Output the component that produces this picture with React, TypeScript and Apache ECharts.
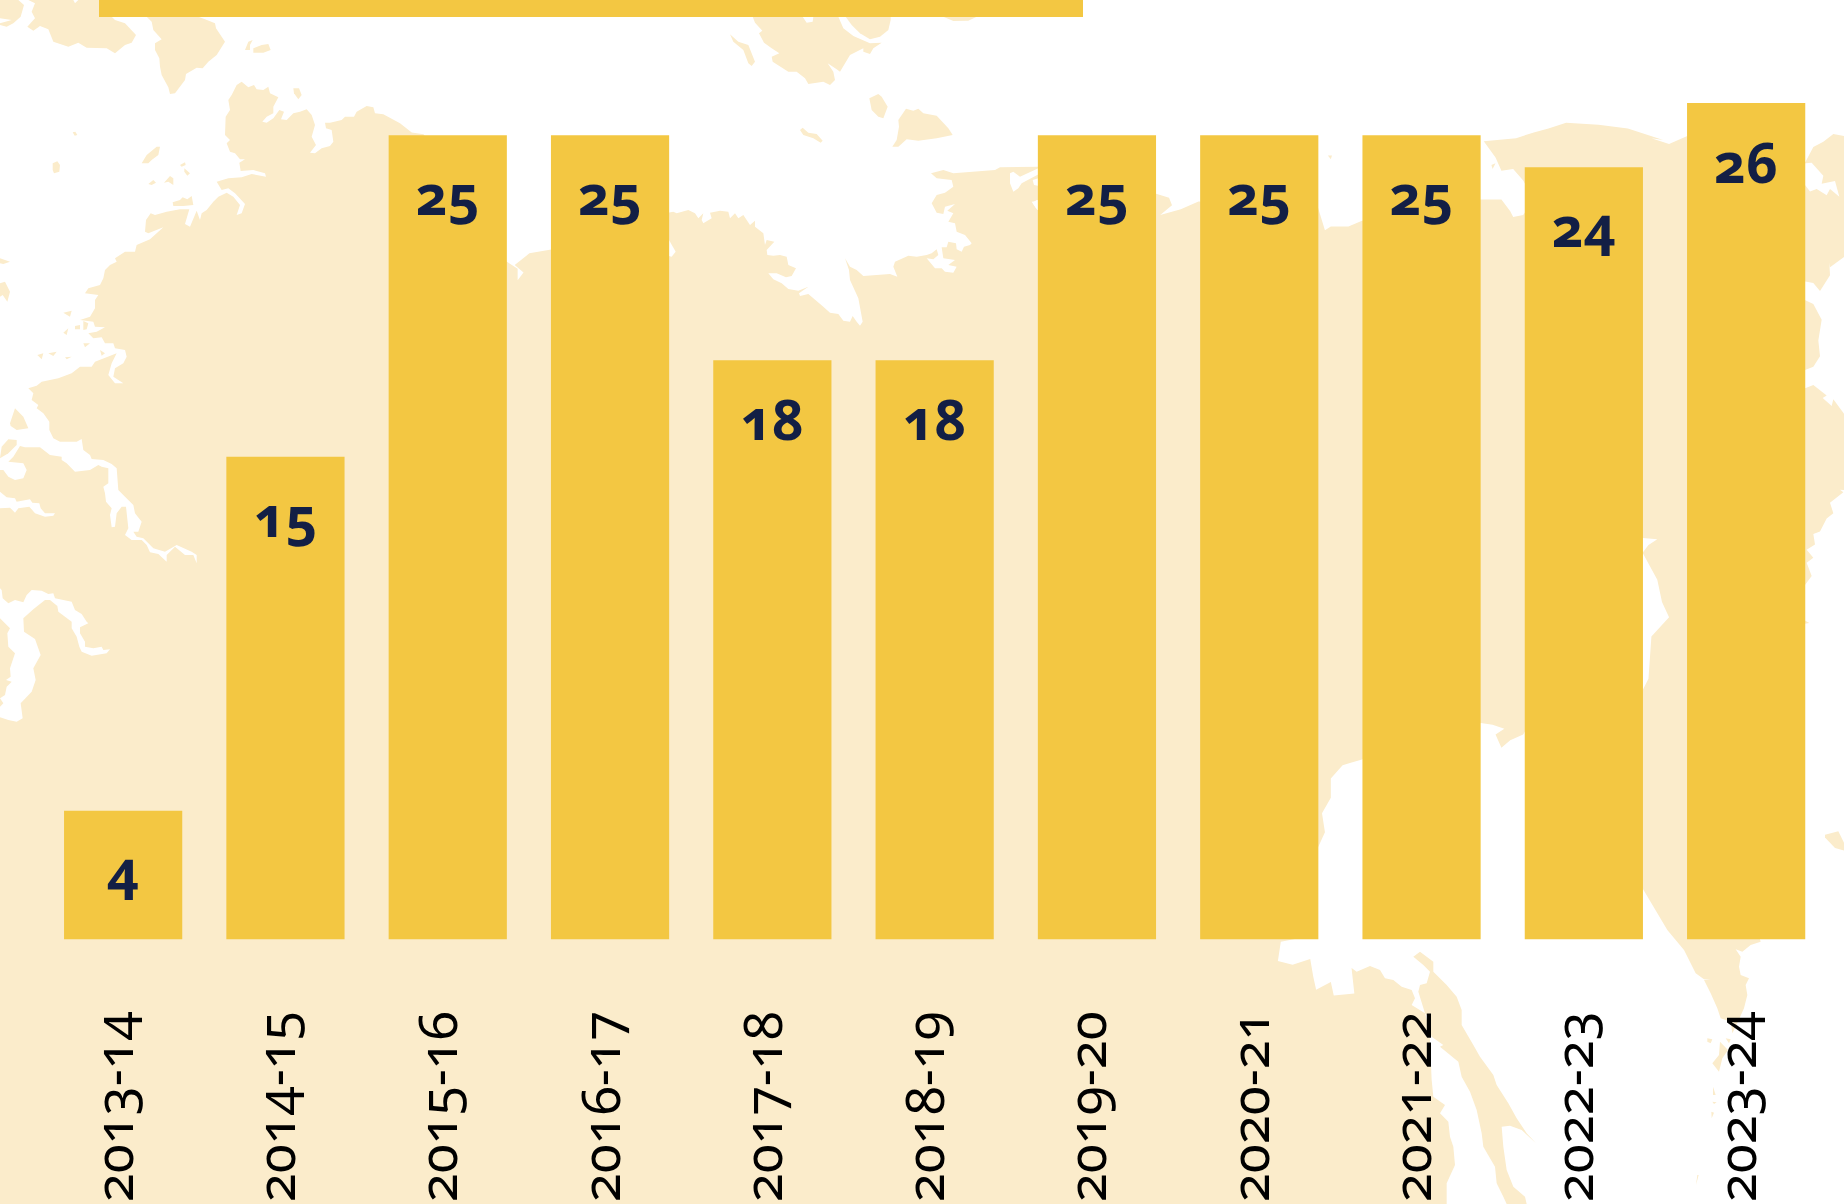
import React, { useEffect, useRef } from "react";
import * as echarts from "echarts";

const categories = ["2013-14", "2014-15", "2015-16", "2016-17", "2017-18", "2018-19", "2019-20", "2020-21", "2021-22", "2022-23", "2023-24"];
const values = [4, 15, 25, 25, 18, 18, 25, 25, 25, 24, 26];

const CREAM = "#FBECCB";
const GOLD = "#F3C742";
const INK = "#131F45";
const FONT = "Noto Sans";

type P = number[];
const m = (ox: number, oy: number, sx: number, sy: number, l: P[]) => l.map(([x, y]) => [ox + x / sx, oy + y / sy]);
const z1 = (l: P[]) => m(0, 0, 1.7, 2.605, l);
const z2 = (l: P[]) => m(922, 0, 1.7, 2.605, l);
const z4 = (l: P[]) => m(922, 602, 1.7, 2.605, l);
const z5 = (l: P[]) => m(1330, 930, 3, 3, l);
const z6 = (l: P[]) => m(1604, 930, 3, 3, l);
const z7 = (l: P[]) => m(1780, 100, 3, 1.912, l);
const z8 = (l: P[]) => m(0, 240, 3, 3, l);
const zA = (l: P[]) => m(0, 0, 3, 3, l);
const zB = (l: P[]) => m(680, 0, 3, 3, l);
const zC = (l: P[]) => m(660, 190, 3, 3, l);

const northOcean: P[] = [
  [0, 0], [1844, 0], [1844, 136],
  ...z7([[160, 65], [130, 80], [100, 90], [75, 120]]),
  ...z2([[1300, 355], [1270, 375], [1240, 360], [1260, 365], [1200, 335], [1150, 325], [1095, 320], [1065, 335], [1040, 345], [1010, 360], [955, 368], [975, 410], [985, 445], [1005, 440], [1022, 470], [1040, 520], [1022, 560], [1005, 565], [1000, 550], [985, 520], [949, 520], [900, 560], [748, 575], [725, 590], [695, 590], [685, 600], [673, 540], [600, 530], [470, 525], [440, 545], [405, 560], [425, 535], [420, 515], [398, 505], [300, 440], [197, 435]]),
  ...zB([[1075, 500], [960, 502], [945, 510], [820, 520], [790, 510], [753, 520], [770, 535], [815, 540], [820, 560], [795, 578], [770, 585]]),
  ...zC([[815, 40], [830, 68], [850, 72], [855, 50], [885, 42], [862, 62], [880, 70], [865, 95], [885, 100], [890, 125], [915, 135], [935, 160], [930, 165], [912, 170], [905, 185], [890, 178], [888, 160], [865, 155], [860, 172], [845, 172], [850, 205], [885, 210], [865, 225], [890, 230], [880, 248], [855, 245], [845, 235], [825, 235], [800, 205], [820, 208], [835, 195], [830, 178], [815, 190], [800, 195], [770, 200], [745, 197], [705, 215], [700, 230], [712, 260], [690, 252], [610, 258], [590, 240], [570, 230], [555, 205], [567, 240], [570, 270], [595, 325], [608, 395], [600, 407], [590, 395], [578, 378], [570, 395], [550, 392], [535, 372], [510, 368], [490, 350], [445, 312], [420, 318], [417, 310], [445, 290], [415, 302], [385, 297], [365, 280], [340, 268], [325, 250], [350, 250], [378, 262], [395, 258], [408, 235], [385, 225], [380, 200], [360, 195], [340, 197], [322, 195], [320, 180], [343, 155], [320, 150], [315, 165], [310, 130], [285, 110], [285, 92], [270, 105], [250, 75], [235, 85], [225, 70], [210, 85], [205, 65], [180, 62], [150, 68], [155, 85], [130, 100], [125, 90], [130, 70], [115, 85], [105, 70], [85, 60], [50, 70], [40, 65], [15, 70]]),
  ...z1([[1000, 600], [937, 650], [900, 660], [875, 690], [890, 710], [880, 730], [880, 700], [860, 680], [800, 500], [720, 350], [700, 345]]),
  ...zA([[1200, 370], [1150, 343], [1125, 340], [1120, 322], [1100, 318], [1070, 335], [1062, 350], [1035, 350], [1025, 360], [990, 368], [975, 368], [978, 385], [995, 390], [1000, 425], [990, 438], [965, 445], [945, 460], [930, 458], [948, 435], [935, 410], [945, 375], [935, 345], [920, 328], [900, 335], [880, 340], [860, 360], [843, 358], [852, 335], [838, 330], [820, 355], [800, 368], [787, 365], [800, 350], [820, 340], [820, 320], [835, 292], [810, 280], [805, 260], [790, 270], [770, 268], [762, 255], [745, 262], [725, 245], [710, 255], [695, 285], [685, 300], [690, 330], [677, 350], [675, 405], [690, 420], [680, 430], [690, 455], [705, 460], [720, 478], [735, 478], [718, 488], [722, 513], [760, 510], [795, 520], [798, 530], [755, 522], [725, 532], [685, 535], [650, 545], [665, 570], [685, 565], [705, 580], [735, 612], [725, 640], [710, 645], [720, 615], [700, 590], [680, 578], [655, 590], [640, 605], [620, 630], [605, 640], [600, 660], [590, 632], [570, 680], [555, 672], [568, 628], [540, 628], [500, 635], [465, 645], [452, 640], [438, 660], [435, 695], [445, 700], [490, 682], [470, 700], [450, 718]]),
  ...z8([[410, 15], [405, 35], [375, 35], [345, 55], [350, 65], [330, 75], [315, 90], [310, 115], [300, 135], [265, 145], [255, 160], [295, 165], [285, 180], [285, 205], [270, 230], [240, 240], [280, 245], [285, 260], [315, 262], [290, 275], [265, 280], [280, 295], [305, 292], [315, 310], [340, 310], [345, 325], [375, 330], [380, 350], [370, 370], [345, 385], [340, 410], [370, 430], [345, 430], [325, 405], [335, 370], [350, 340], [285, 365], [275, 380], [240, 380], [215, 400], [175, 415], [125, 425], [110, 437], [85, 445], [100, 460], [95, 480], [115, 495], [110, 505], [130, 520], [148, 545], [148, 570], [160, 595], [180, 605], [230, 605], [245, 597], [250, 630], [270, 645], [275, 657], [310, 660], [335, 672], [350, 685], [355, 750], [375, 770], [400, 795], [405, 820], [425, 845], [415, 875], [400, 875], [410, 890], [430, 895], [460, 925], [495, 935], [530, 915], [575, 935], [590, 945], [590, 970], [580, 945], [555, 945], [525, 920], [500, 945], [500, 965], [475, 942], [450, 937], [440, 915], [425, 900], [395, 900], [375, 885], [385, 865], [378, 800], [365, 800], [350, 820], [345, 860], [335, 862], [330, 825], [335, 805], [318, 785], [315, 760], [310, 740], [325, 730], [325, 685], [305, 680], [295, 675], [270, 690], [225, 695], [200, 670], [185, 660], [185, 650], [150, 645], [120, 622], [75, 622], [60, 618], [40, 650], [25, 665], [70, 670], [80, 690], [70, 715], [45, 720], [25, 710], [10, 690], [0, 690]]),
];

const channel: P[] = z8([[0, 755], [20, 772], [45, 775], [50, 785], [90, 778], [97, 788], [118, 790], [122, 805], [135, 820], [165, 820], [160, 827], [135, 830], [105, 820], [88, 800], [55, 805], [45, 818], [30, 803], [0, 805]]);
const westSea: P[] = z8([[0, 1045], [5, 1050], [8, 1075], [25, 1090], [45, 1080], [70, 1087], [80, 1065], [95, 1050], [125, 1052], [145, 1062], [160, 1060], [165, 1075], [215, 1085], [225, 1110], [245, 1122], [260, 1145], [265, 1150], [240, 1162], [240, 1180], [255, 1205], [255, 1220], [280, 1225], [305, 1220], [310, 1230], [330, 1228], [320, 1240], [275, 1247], [245, 1235], [238, 1220], [230, 1190], [215, 1165], [215, 1145], [175, 1115], [172, 1098], [150, 1080], [135, 1080], [100, 1108], [70, 1135], [72, 1175], [105, 1197], [122, 1245], [100, 1285], [107, 1320], [95, 1355], [62, 1390], [68, 1435], [50, 1445], [25, 1440], [0, 1432], [0, 1400], [10, 1390], [0, 1375], [15, 1365], [20, 1340], [35, 1325], [18, 1320], [32, 1310], [30, 1285], [45, 1240], [25, 1220], [22, 1180], [30, 1165], [0, 1135]]);

const eastBay: P[] = z7([[192, 300], [150, 320], [148, 310], [150, 335], [120, 365], [100, 350], [60, 345], [60, 378], [100, 390], [125, 420], [115, 460], [120, 490], [100, 510], [60, 520], [60, 555], [100, 545], [140, 565], [128, 570], [155, 585], [160, 572], [192, 600]]);
const eastInlet: P[] = z7([[60, 122], [95, 120], [130, 145], [125, 160], [165, 155], [178, 185], [150, 170], [140, 182], [110, 170], [90, 175], [60, 150]]);

const southOcean: P[] = [
  [1844, 1204], [1844, 490],
  ...z7([[180, 745], [190, 750], [150, 770], [160, 790], [140, 800], [120, 825], [100, 830], [105, 850], [80, 860], [100, 875], [80, 885], [95, 910], [60, 940]]),
  [1750, 900],
  ...z6([[470, 35], [440, 45], [415, 65], [395, 58], [410, 80], [405, 110], [410, 135], [435, 145], [425, 165], [430, 195], [420, 235], [395, 290], [385, 310], [380, 275], [350, 265], [340, 235], [320, 190], [300, 150], [320, 150], [300, 148], [275, 130], [240, 60], [190, 0]]),
  ...z4([[1215, 720], [1215, 260], [1235, 200], [1240, 90], [1270, 40], [1258, 0]]),
  ...z2([[1250, 1510], [1225, 1440], [1235, 1420], [1250, 1405], [1215, 1400]]),
  ...z4([[1022, 345], [1000, 360], [985, 380], [975, 345], [990, 330], [970, 320], [950, 315], [850, 360], [748, 410], [715, 425], [695, 460], [695, 510], [680, 550], [685, 600], [673, 640], [660, 870], [610, 885], [605, 935], [630, 945], [660, 930], [665, 975], [670, 1010], [695, 990], [700, 1025], [735, 1020], [730, 950]]),
  ...z5([[60, 110], [80, 125], [120, 108], [150, 120], [165, 145], [190, 150], [215, 170], [245, 180], [255, 205], [245, 225], [285, 250], [265, 185], [270, 165], [290, 160], [300, 125], [280, 105], [250, 80], [270, 65], [310, 95], [310, 125], [350, 165], [380, 200], [395, 240], [395, 285], [430, 345], [450, 380], [490, 435], [500, 465], [535, 520], [560, 565], [590, 610], [618, 640], [575, 600], [540, 587], [515, 590], [520, 650], [530, 720], [550, 770], [585, 800], [590, 822]]),
  [1540, 1204],
];
const gulf: P[] = [
  ...z5([[285, 250], [300, 265], [300, 340], [305, 450], [310, 500], [345, 525], [330, 550], [355, 575], [360, 620], [370, 650], [375, 705], [350, 760], [350, 822]]),
  [1446, 1204], [1520, 1204],
  ...z5([[530, 822], [520, 800], [500, 760], [495, 710], [460, 650], [455, 610], [440, 540], [420, 485], [395, 440], [385, 395], [330, 350], [340, 345], [305, 320]]),
];

const whiteBits: P[][] = [
  zB([[990, 520], [1000, 515], [1020, 530], [1075, 505], [1090, 515], [1025, 550], [1015, 565], [1000, 575], [990, 550]]),
  zB([[1058, 540], [1090, 530], [1090, 560], [1062, 555]]),
  zB([[1055, 605], [1090, 600], [1090, 630], [1068, 625]]),
  zC([[15, 150], [27, 150], [47, 185], [35, 200], [15, 195]]),
  zC([[1118, 38], [1130, 30], [1150, 30], [1150, 60], [1132, 60]]),
];

const isles: P[][] = [
  zA([[0, 0], [55, 0], [72, 15], [62, 50], [40, 70], [20, 80], [0, 75], [0, 70], [35, 60], [0, 55]]),
  zA([[85, 0], [105, 10], [95, 35], [105, 55], [82, 80], [100, 92], [120, 78], [145, 88], [160, 125], [205, 140], [235, 128], [260, 143], [320, 145], [345, 160], [375, 135], [395, 128], [408, 105], [375, 70], [345, 60], [335, 50], [297, 50], [297, 0], [235, 0], [225, 10], [220, 0]]),
  zA([[440, 50], [455, 65], [460, 90], [485, 118], [465, 130], [465, 150], [478, 175], [480, 200], [485, 225], [505, 262], [510, 282], [525, 280], [555, 240], [558, 222], [590, 203], [608, 205], [625, 185], [650, 165], [675, 125], [648, 85], [645, 70], [615, 58], [595, 50]]),
  zA([[735, 150], [745, 125], [758, 120], [750, 135], [750, 150]]),
  zA([[760, 145], [785, 135], [805, 132], [812, 150], [790, 158], [760, 158]]),
  zA([[880, 265], [897, 265], [905, 285], [895, 298], [882, 280]]),
  zA([[218, 397], [226, 395], [232, 405], [224, 407]]),
  zA([[158, 490], [172, 484], [180, 495], [178, 515], [162, 520], [158, 510]]),
  zA([[425, 490], [440, 465], [470, 440], [480, 440], [475, 465], [455, 480], [445, 490]]),
  zA([[540, 495], [555, 487], [557, 495], [545, 500]]),
  zA([[553, 505], [570, 520], [562, 527], [553, 515]]),
  zA([[445, 552], [460, 540], [468, 548], [455, 555]]),
  zA([[492, 548], [510, 528], [520, 535], [520, 555], [505, 545]]),
  zA([[518, 607], [540, 600], [548, 592], [562, 598], [575, 588], [580, 615], [550, 618], [520, 618]]),
  zB([[218, 50], [225, 68], [247, 92], [237, 100], [252, 128], [275, 145], [298, 160], [275, 170], [278, 185], [325, 215], [350, 215], [375, 235], [385, 252], [430, 245], [450, 255], [465, 240], [460, 215], [443, 190], [470, 208], [480, 215], [510, 165], [550, 145], [550, 155], [570, 162], [580, 145], [605, 128], [570, 130], [520, 108], [490, 85], [475, 50], [400, 50], [398, 65], [380, 68], [368, 50]]),
  zB([[497, 50], [515, 75], [540, 100], [570, 118], [600, 110], [625, 90], [632, 60], [632, 50]]),
  zB([[790, 50], [820, 63], [865, 62], [890, 50]]),
  zB([[150, 103], [175, 125], [205, 135], [225, 185], [215, 198], [205, 190], [190, 150], [160, 125]]),
  zB([[568, 295], [595, 282], [605, 290], [623, 320], [610, 355], [595, 350], [575, 330]]),
  zB([[655, 360], [678, 326], [700, 332], [715, 326], [730, 340], [770, 347], [805, 385], [818, 405], [770, 415], [715, 422], [680, 418], [655, 440], [637, 440], [650, 420], [657, 380]]),
  zB([[360, 390], [368, 383], [385, 398], [410, 402], [428, 422], [422, 428], [400, 415], [370, 405]]),
  z2([[690, 405], [697, 405], [695, 415]]),
  z2([[968, 430], [975, 425], [970, 440]]),
  z8([[190, 218], [215, 212], [210, 230]]),
  z8([[190, 278], [205, 265], [200, 285]]),
  z8([[225, 258], [240, 255], [240, 268], [225, 268]]),
  z8([[250, 243], [265, 250], [260, 268], [250, 270]]),
  z8([[250, 310], [270, 310], [255, 322]]),
  z8([[300, 330], [315, 340], [305, 347]]),
  z8([[112, 345], [130, 340], [125, 358]]),
  z8([[145, 340], [170, 335], [160, 348]]),
  z8([[195, 352], [215, 350], [200, 358]]),
  z8([[0, 55], [30, 65], [10, 72], [0, 70]]),
  z8([[0, 130], [15, 125], [30, 155], [22, 185], [8, 165], [0, 170]]),
  z8([[30, 550], [45, 505], [70, 530], [85, 565], [50, 570], [32, 558]]),
  z8([[5, 620], [25, 598], [50, 600], [50, 615], [25, 640], [0, 655]]),
  z7([[135, 1405], [175, 1398], [192, 1420], [192, 1435], [165, 1430], [135, 1410]]),
  z7([[60, 990], [88, 1000], [60, 1003]]),
  z6([[310, 325], [325, 328], [320, 340], [310, 335]]),
  z6([[365, 325], [380, 328], [375, 340]]),
  z6([[348, 335], [372, 360], [355, 385], [345, 425], [325, 400], [345, 375]]),
  z6([[327, 470], [335, 495], [327, 495]]),
  z6([[325, 515], [338, 517], [330, 522]]),
  z6([[322, 545], [330, 548], [323, 565]]),
  z6([[280, 735], [284, 735], [276, 765]]),
];

const poly = (points: number[][], fill: string) => ({
  type: "polygon",
  silent: true,
  z: -5,
  shape: { points },
  style: { fill },
});

export default function App() {
  const ref = useRef<HTMLDivElement>(null);
  useEffect(() => {
    const chart = echarts.init(ref.current!, undefined, { renderer: "svg", width: 1844, height: 1204 });
    chart.setOption({
      animation: false,
      backgroundColor: "transparent",
      graphic: {
        elements: [
          { type: "rect", silent: true, z: -6, shape: { x: 0, y: 0, width: 1844, height: 1204 }, style: { fill: CREAM } },
          poly(northOcean, "#ffffff"),
          poly(channel, "#ffffff"),
          poly(westSea, "#ffffff"),
          poly(eastBay, "#ffffff"),
          poly(eastInlet, "#ffffff"),
          poly(southOcean, "#ffffff"),
          poly(gulf, "#ffffff"),
          ...whiteBits.map((p) => poly(p, "#ffffff")),
          ...isles.map((p) => poly(p, CREAM)),
          { type: "rect", silent: true, z: -4, shape: { x: 99, y: 0, width: 984, height: 17 }, style: { fill: GOLD } },
        ],
      },
      grid: { left: 42, top: 103, width: 1785.3, height: 836.3, containLabel: false, outerBoundsMode: "none" },
      xAxis: {
        type: "category",
        data: categories,
        axisLine: { show: false },
        axisTick: { show: false },
        axisLabel: {
          rotate: 90,
          margin: 72,
          interval: 0,
          fontFamily: FONT,
          fontSize: 53,
          lineHeight: 22,
          verticalAlign: "bottom",
          color: "#000000",
          hideOverlap: false,
        },
      },
      yAxis: { type: "value", min: 0, max: 26, show: false, splitLine: { show: false } },
      series: [
        {
          type: "bar",
          data: values,
          barWidth: 118.2,
          itemStyle: { color: GOLD },
          label: {
            show: true,
            position: "insideTop",
            distance: 31,
            fontFamily: FONT,
            fontWeight: "bold",
            fontSize: 55,
            color: INK,
          },
        },
      ],
    });
    return () => chart.dispose();
  }, []);
  return (
    <div style={{ position: "fixed", left: 0, top: 0, width: 1844, height: 1204, overflow: "hidden" }}>
      <style>{`#oldstyle text { font-feature-settings: "onum" 1 !important; font-variant-numeric: oldstyle-nums !important; } body { margin: 0; background: #fff; }`}</style>
      <div id="oldstyle" ref={ref} style={{ width: 1844, height: 1204 }} />
    </div>
  );
}
